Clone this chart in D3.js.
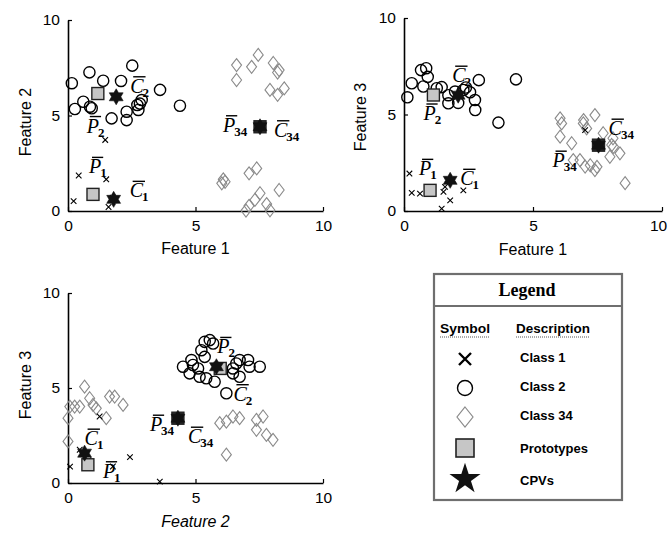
<!DOCTYPE html>
<html>
<head>
<meta charset="utf-8">
<script src="https://cdn.jsdelivr.net/npm/d3@7"></script>
<style>
  body { margin: 0; background: #fff; }
  svg { display: block; }
</style>
</head>
<body>
<svg id="chart" width="668" height="533"></svg>
<script>
// ---- data -------------------------------------------------------------
const tickValues = [0, 5, 10];
const classIds = ["1", "2", "34"];

// Panel A: Feature 1 (x) vs Feature 2 (y)
const classOneA = [[0.42, 1.86], [0.22, 0.52], [1.46, 3.72], [1.5, 1.66], [1.59, 0.21], [1.05, 0.95], [1.75, 0.7]];
const classTwoA = [[0.15, 6.69], [0.84, 7.26], [1.38, 6.82], [2.08, 6.81], [2.52, 7.61], [0.27, 5.34],
  [0.6, 5.72], [0.86, 5.46], [0.93, 5.38], [1.71, 4.85], [2.3, 5.2], [2.3, 4.76], [2.76, 5.29],
  [2.89, 5.81], [2.82, 5.62], [2.72, 5.55], [3.61, 6.34], [4.39, 5.51]];
const classThirtyFourA = [[6.61, 7.64], [6.61, 6.86], [7.2, 7.55], [7.46, 8.17], [8.05, 7.75], [8.28, 7.38],
  [8.22, 7.25], [7.92, 6.34], [8.22, 6.08], [8.48, 6.42], [6.09, 1.66], [6.16, 1.53], [6.03, 1.45],
  [7.1, 1.97], [7.4, 2.23], [8.28, 1.1], [7.53, 0.93], [7.33, 0.58], [7.1, 0.27], [7.79, 0.36],
  [7.92, 0.04], [6.98, 0.02]];
const prototypesA = [[0.98, 0.87], [1.17, 6.15], [7.53, 4.41]];
const cpvsA = [[1.79, 0.61], [1.89, 5.98], [7.53, 4.41]];

// Panel B: Feature 1 (x) vs Feature 3 (y)
const classOneB = [[0.21, 1.94], [0.3, 0.94], [0.62, 0.9], [1.53, 0.99], [1.59, 1.25], [1.79, 0.55],
  [2.3, 1.07], [1.46, 0.12], [7.02, 4.19]];
const classTwoB = [[0.13, 5.89], [0.3, 6.62], [0.66, 7.3], [0.86, 7.4], [0.92, 6.95], [0.75, 6.45],
  [1.27, 6.36], [1.46, 6.42], [1.72, 5.58], [2.1, 5.6], [2.3, 6.27], [2.56, 6.15], [2.75, 5.75],
  [2.76, 5.23], [2.9, 6.78], [4.34, 6.82], [3.66, 4.58], [2.4, 6.4], [1.98, 6.19], [1.72, 6.0]];
const classThirtyFourB = [[6.11, 4.54], [6.05, 3.85], [6.5, 3.51], [6.95, 4.54], [7.4, 4.97], [7.08, 4.28],
  [6.56, 2.64], [7.02, 2.3], [7.4, 2.12], [8.05, 3.42], [8.37, 2.99], [7.98, 2.81], [8.57, 1.44],
  [7.72, 4.03], [8.1, 3.77], [6.82, 2.64], [6.05, 4.8], [7.22, 2.37], [7.48, 2.29], [8.12, 3.33],
  [6.96, 4.71]];
const prototypesB = [[1.01, 1.07], [1.14, 6.01], [7.54, 3.41]];
const cpvsB = [[1.79, 1.59], [2.1, 6.0], [7.54, 3.41]];

// Panel C: Feature 2 (x) vs Feature 3 (y)
const classOneC = [[0.46, 1.75], [0.08, 0.86], [2.43, 1.36], [3.6, 0.07], [1.76, 0.87], [0.6, 1.6],
  [0.8, 1.2], [1.24, 3.5]];
const classTwoC = [[4.51, 6.12], [4.77, 5.77], [4.9, 6.21], [5.1, 6.03], [5.16, 5.59], [5.42, 5.51],
  [5.23, 6.99], [5.36, 7.43], [5.56, 7.52], [5.69, 7.34], [5.36, 6.64], [5.75, 5.33], [6.21, 4.72],
  [6.47, 5.77], [6.6, 6.29], [6.73, 6.47], [7.06, 6.47], [7.12, 6.12], [7.52, 6.12], [6.73, 5.59],
  [6.47, 6.03], [4.84, 6.47]];
const classThirtyFourC = [[0.0, 3.41], [0.0, 2.19], [0.65, 5.07], [0.07, 4.02], [0.26, 4.02], [0.46, 4.02],
  [0.85, 4.46], [0.98, 4.11], [1.11, 3.93], [1.5, 3.41], [1.63, 4.55], [1.83, 4.55], [2.16, 4.11],
  [5.95, 3.15], [6.21, 3.23], [6.47, 3.5], [6.73, 3.41], [7.39, 3.32], [7.65, 3.5], [7.39, 2.8],
  [7.78, 2.53], [8.04, 2.27], [6.21, 1.49]];
const prototypesC = [[0.78, 0.96], [5.97, 6.03], [4.31, 3.41]];
const cpvsC = [[0.65, 1.57], [5.82, 6.12], [4.31, 3.41]];

// Legend entries
const legendLabels = ["Class 1", "Class 2", "Class 34", "Prototypes", "CPVs"];

// ---- layout -----------------------------------------------------------
const panels = [
  { x0: 68, x1: 323, y0: 211, y1: 20, xTitle: "Feature 1", yTitle: "Feature 2", italicX: false,
    xTitleY: 254, yTitleX: 31, yTitleMid: 122, lastTickShift: 0,
    c1: classOneA, c2: classTwoA, c34: classThirtyFourA, protos: prototypesA, cpvs: cpvsA,
    pOff: [[-4, -21], [-11, 39], [-37, 5]], cOff: [[16, -2], [14, -4], [14, 10]] },
  { x0: 404, x1: 662, y0: 211, y1: 18, xTitle: "Feature 1", yTitle: "Feature 3", italicX: false,
    xTitleY: 255, yTitleX: 366, yTitleMid: 117, lastTickShift: -4,
    c1: classOneB, c2: classTwoB, c34: classThirtyFourB, protos: prototypesB, cpvs: cpvsB,
    pOff: [[-11, -15], [-10, 25], [-46, 22]], cOff: [[10, 5], [-6, -13], [10, -10]] },
  { x0: 68, x1: 323, y0: 483, y1: 293, xTitle: "Feature 2", yTitle: "Feature 3", italicX: true,
    xTitleY: 527, yTitleX: 31, yTitleMid: 385, lastTickShift: 0,
    c1: classOneC, c2: classTwoC, c34: classThirtyFourC, protos: prototypesC, cpvs: cpvsC,
    pOff: [[15, 13], [-3, -15], [-28, 13]], cOff: [[0, -8], [17, 34], [10, 25]] }
];

const protoFill = { "1": "#c6c6c6", "2": "#c6c6c6", "34": "#2a2a2a" };

const svg = d3.select("#chart");

// six-pointed star used for the CPV marks in the scatter panels
function hexStar(r) {
  const pts = [];
  for (let i = 0; i < 12; i++) {
    const a = -Math.PI / 2 + i * Math.PI / 6;
    const rr = i % 2 === 0 ? r : r * 0.58;
    pts.push([rr * Math.cos(a), rr * Math.sin(a)]);
  }
  return "M" + pts.map(p => p[0].toFixed(2) + "," + p[1].toFixed(2)).join("L") + "Z";
}
function diamond(w, h) {
  return `M0,${-h}L${w},0L0,${h}L${-w},0Z`;
}
function crossPath(s) {
  return `M${-s},${-s}L${s},${s}M${-s},${s}L${s},${-s}`;
}

// label like  P̄₁  : italic serif letter with an overbar and a subscript
function overLabel(g, x, y, letter, sub) {
  const t = g.append("text")
    .attr("x", x).attr("y", y)
    .attr("font-family", "Liberation Serif, Times New Roman, serif")
    .attr("font-style", "italic")
    .attr("font-size", 20)
    .attr("fill", "#000")
    .text(letter);
  const w = t.node().getComputedTextLength();
  g.append("line")
    .attr("x1", x + 3).attr("x2", x + w + 2)
    .attr("y1", y - 16).attr("y2", y - 16)
    .attr("stroke", "#000").attr("stroke-width", 1.4);
  g.append("text")
    .attr("x", x + w - 1).attr("y", y + 4)
    .attr("font-family", "Liberation Serif, Times New Roman, serif")
    .attr("font-weight", "bold")
    .attr("font-size", 13)
    .attr("fill", "#000")
    .text(sub);
}

panels.forEach(p => {
  const x = d3.scaleLinear().domain([0, 10]).range([p.x0, p.x1]);
  const y = d3.scaleLinear().domain([0, 10]).range([p.y0, p.y1]);
  const g = svg.append("g");

  // axes
  const xa = g.append("g").attr("transform", `translate(0,${p.y0})`)
    .call(d3.axisBottom(x).tickValues(tickValues).tickSize(-4).tickSizeOuter(0).tickPadding(9));
  const ya = g.append("g").attr("transform", `translate(${p.x0},0)`)
    .call(d3.axisLeft(y).tickValues(tickValues).tickSize(-4).tickSizeOuter(0).tickPadding(8));
  [xa, ya].forEach(a => {
    a.select(".domain").attr("stroke", "#000").attr("stroke-width", 1.6);
    a.selectAll(".tick line").attr("stroke", "#000").attr("stroke-width", 1.2);
    a.selectAll(".tick text").attr("font-family", "Liberation Sans, Arial, sans-serif")
      .attr("font-size", 15.5).attr("fill", "#000");
  });
  // keep the right-most tick label inside the page
  xa.selectAll(".tick text").filter(d => d === 10).attr("dx", p.lastTickShift);

  g.append("text")
    .attr("x", (p.x0 + p.x1) / 2).attr("y", p.xTitleY)
    .attr("text-anchor", "middle")
    .attr("font-family", "Liberation Sans, Arial, sans-serif")
    .attr("font-size", 16)
    .attr("font-style", p.italicX ? "italic" : "normal")
    .text(p.xTitle);
  g.append("text")
    .attr("transform", `translate(${p.yTitleX},${p.yTitleMid}) rotate(-90)`)
    .attr("text-anchor", "middle")
    .attr("font-family", "Liberation Sans, Arial, sans-serif")
    .attr("font-size", 16)
    .text(p.yTitle);

  // class 34 diamonds
  g.append("g").selectAll("path").data(p.c34).join("path")
    .attr("transform", d => `translate(${x(d[0])},${y(d[1])})`)
    .attr("d", diamond(5, 6.5))
    .attr("fill", "none").attr("stroke", "#8a8a8a").attr("stroke-width", 1.1);

  // class 2 circles
  g.append("g").selectAll("circle").data(p.c2).join("circle")
    .attr("cx", d => x(d[0])).attr("cy", d => y(d[1])).attr("r", 5.6)
    .attr("fill", "none").attr("stroke", "#000").attr("stroke-width", 1.4);

  // class 1 crosses
  g.append("g").selectAll("path").data(p.c1).join("path")
    .attr("transform", d => `translate(${x(d[0])},${y(d[1])})`)
    .attr("d", crossPath(2.8))
    .attr("fill", "none").attr("stroke", "#000").attr("stroke-width", 1.1);

  // prototypes
  g.append("g").selectAll("rect").data(p.protos).join("rect")
    .attr("x", d => x(d[0]) - 6).attr("y", d => y(d[1]) - 6)
    .attr("width", 12).attr("height", 12)
    .attr("fill", (d, i) => protoFill[classIds[i]])
    .attr("stroke", "#222").attr("stroke-width", 1.4);

  // CPVs
  g.append("g").selectAll("path").data(p.cpvs).join("path")
    .attr("transform", d => `translate(${x(d[0])},${y(d[1])})`)
    .attr("d", hexStar(8))
    .attr("fill", "#111").attr("stroke", "#111").attr("stroke-width", 0.6);

  // annotations
  const lg = g.append("g");
  p.protos.forEach((d, i) => overLabel(lg, x(d[0]) + p.pOff[i][0], y(d[1]) + p.pOff[i][1], "P", classIds[i]));
  p.cpvs.forEach((d, i) => overLabel(lg, x(d[0]) + p.cOff[i][0], y(d[1]) + p.cOff[i][1], "C", classIds[i]));
});

// ---- legend -----------------------------------------------------------
const leg = svg.append("g");
leg.append("rect").attr("x", 434).attr("y", 274).attr("width", 188).attr("height", 226)
  .attr("fill", "#fff").attr("stroke", "#6f6f6f").attr("stroke-width", 2.2);
leg.append("line").attr("x1", 434).attr("x2", 622).attr("y1", 306).attr("y2", 306)
  .attr("stroke", "#6f6f6f").attr("stroke-width", 2);
leg.append("text").attr("x", 527).attr("y", 296).attr("text-anchor", "middle")
  .attr("font-family", "Liberation Serif, Times New Roman, serif").attr("font-weight", "bold")
  .attr("font-size", 18).text("Legend");

const headFont = "Liberation Sans Narrow, Liberation Sans, Arial, sans-serif";
[["Symbol", 440, 50], ["Description", 516, 74]].forEach(([t, hx, hw]) => {
  leg.append("text").attr("x", hx).attr("y", 333)
    .attr("font-family", headFont).attr("font-weight", "bold").attr("font-size", 12)
    .attr("textLength", hw).attr("lengthAdjust", "spacingAndGlyphs").text(t);
  leg.append("line").attr("x1", hx).attr("x2", hx + hw).attr("y1", 337).attr("y2", 337)
    .attr("stroke", "#555").attr("stroke-width", 1).attr("stroke-dasharray", "1,1");
});

const rowY = [359, 388, 417, 448, 479];
const textY = [362, 391, 420, 453, 485];
const sx = 465;
legendLabels.forEach((t, i) => {
  leg.append("text").attr("x", 520).attr("y", textY[i])
    .attr("font-family", headFont).attr("font-weight", "bold").attr("font-size", 13)
    .text(t);
});
leg.append("path").attr("transform", `translate(${sx},${rowY[0]})`).attr("d", crossPath(6))
  .attr("stroke", "#000").attr("stroke-width", 2.4).attr("fill", "none");
leg.append("circle").attr("cx", sx).attr("cy", rowY[1]).attr("r", 7.5)
  .attr("stroke", "#000").attr("stroke-width", 1.4).attr("fill", "none");
leg.append("path").attr("transform", `translate(${sx},${rowY[2]})`).attr("d", diamond(8, 10))
  .attr("stroke", "#8a8a8a").attr("stroke-width", 1.2).attr("fill", "none");
leg.append("rect").attr("x", sx - 9).attr("y", rowY[3] - 9).attr("width", 18).attr("height", 18)
  .attr("fill", "#c6c6c6").attr("stroke", "#222").attr("stroke-width", 1.6);
leg.append("path").attr("transform", `translate(${sx},${rowY[4]})`)
  .attr("d", d3.symbol(d3.symbolStar, 300)())
  .attr("fill", "#111");
</script>
</body>
</html>
